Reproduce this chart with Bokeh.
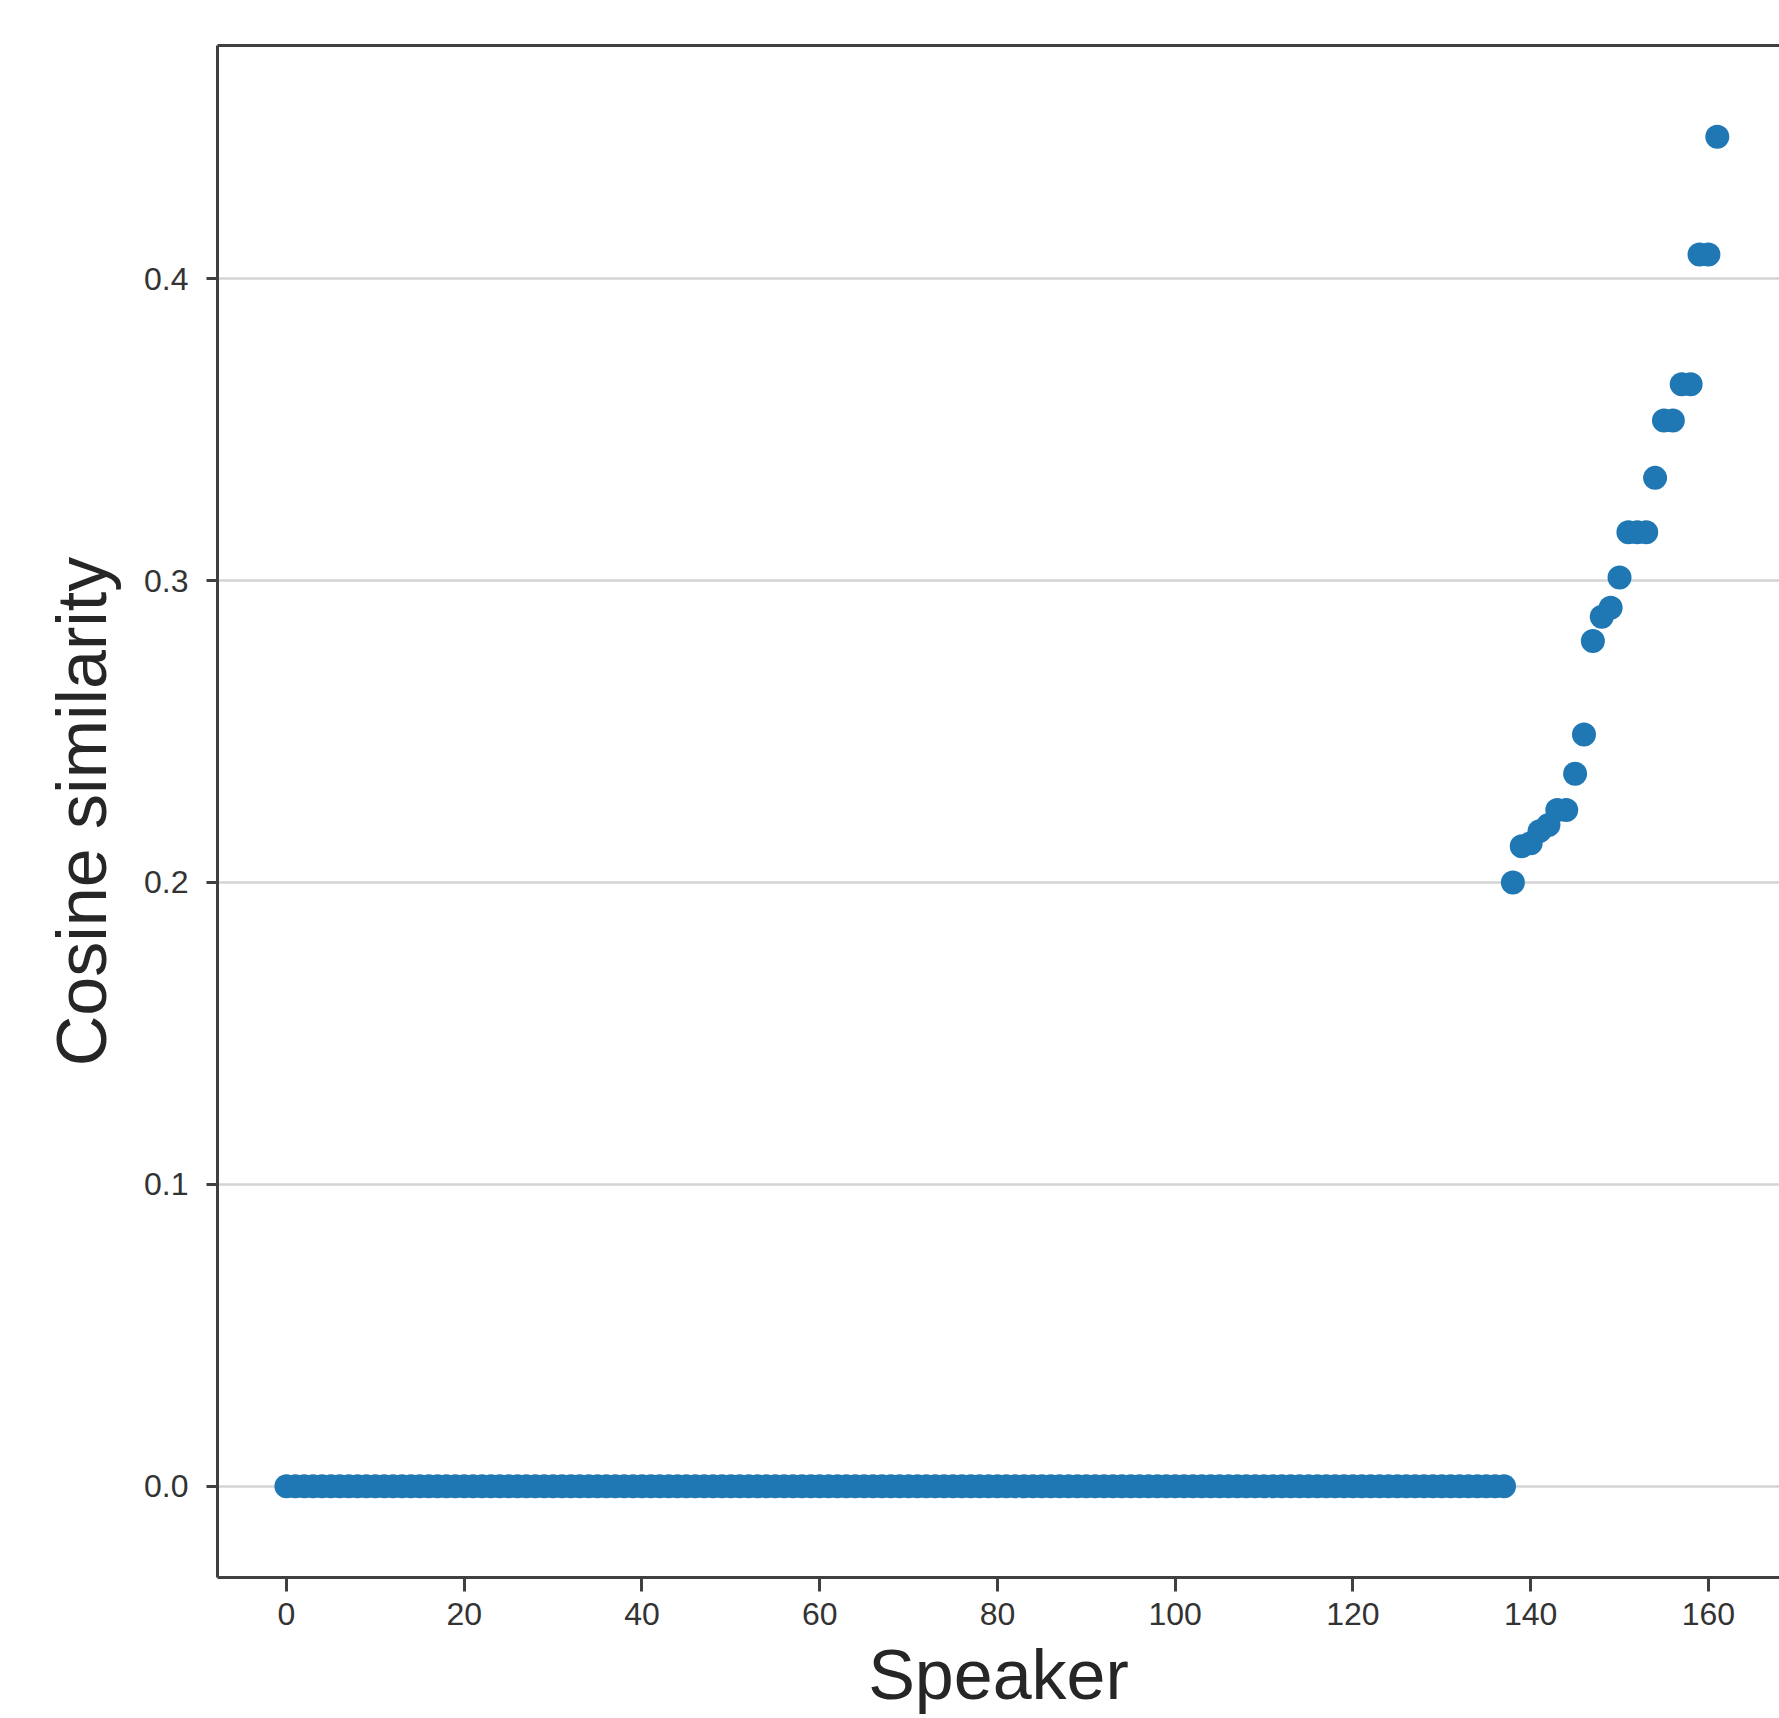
from bokeh.plotting import figure
from bokeh.models import Range1d, FixedTicker, PrintfTickFormatter, LinearAxis, ColumnDataSource
from bokeh.embed import file_html
from bokeh.resources import INLINE

# ---- data ----
zero_similarity = [0.0] * 138  # speakers 0..137 all at 0.0
nonzero_similarity = [
    0.200, 0.212, 0.213, 0.217, 0.219, 0.224, 0.224, 0.236,
    0.249, 0.280, 0.288, 0.291, 0.301, 0.316, 0.316, 0.316,
    0.334, 0.353, 0.353, 0.365, 0.365, 0.408, 0.408, 0.447,
]
similarity = zero_similarity + nonzero_similarity
speaker = list(range(len(similarity)))

x_ticks = [0, 20, 40, 60, 80, 100, 120, 140, 160]
y_ticks = [0.0, 0.1, 0.2, 0.3, 0.4]

FONT = "Liberation Sans"
AXIS_COLOR = "#404040"
TEXT_COLOR = "#333333"
LABEL_COLOR = "#262626"

src = ColumnDataSource(dict(speaker=speaker, similarity=similarity))

p = figure(
    width=1779, height=1718,
    output_backend="svg", toolbar_location=None,
    x_range=Range1d(-7.76, 168.0),
    y_range=Range1d(-0.0302, 0.4772),
    min_border_left=217, min_border_right=0,
    min_border_top=45, min_border_bottom=141,
    background_fill_color="white", border_fill_color="white",
)
p.outline_line_color = None

p.scatter("speaker", "similarity", source=src, size=24, marker="circle",
          fill_color="#1f77b4", line_color=None)

# grid: horizontal only
p.xgrid.visible = False
p.ygrid.grid_line_color = "#d4d4d4"
p.ygrid.grid_line_width = 2.5
p.ygrid.ticker = FixedTicker(ticks=y_ticks)

# x axis
xa = p.xaxis[0]
xa.ticker = FixedTicker(ticks=x_ticks)
xa.axis_label = "Speaker"
xa.axis_label_text_font = FONT
xa.axis_label_text_font_size = "70px"
xa.axis_label_text_font_style = "normal"
xa.axis_label_text_color = LABEL_COLOR
xa.axis_label_standoff = 8
xa.major_label_text_font = FONT
xa.major_label_text_font_size = "32px"
xa.major_label_text_color = TEXT_COLOR
xa.major_label_standoff = 11
xa.axis_line_color = AXIS_COLOR
xa.axis_line_width = 3
xa.major_tick_line_color = AXIS_COLOR
xa.major_tick_line_width = 3
xa.major_tick_in = 0
xa.major_tick_out = 14
xa.minor_tick_line_color = None

# y axis
ya = p.yaxis[0]
ya.ticker = FixedTicker(ticks=y_ticks)
ya.formatter = PrintfTickFormatter(format="%.1f")
ya.axis_label = "Cosine similarity"
ya.axis_label_text_font = FONT
ya.axis_label_text_font_size = "70px"
ya.axis_label_text_font_style = "normal"
ya.axis_label_text_color = LABEL_COLOR
ya.axis_label_standoff = 20
ya.major_label_text_font = FONT
ya.major_label_text_font_size = "32px"
ya.major_label_text_color = TEXT_COLOR
ya.major_label_standoff = 18
ya.axis_line_color = AXIS_COLOR
ya.axis_line_width = 3
ya.major_tick_line_color = AXIS_COLOR
ya.major_tick_line_width = 3
ya.major_tick_in = 0
ya.major_tick_out = 11
ya.minor_tick_line_color = None

# top frame line (the right side is cut off in the reference)
top = LinearAxis(ticker=FixedTicker(ticks=[]))
top.axis_line_color = AXIS_COLOR
top.axis_line_width = 3
top.major_tick_line_color = None
top.minor_tick_line_color = None
top.major_label_text_font_size = "0px"
top.major_label_standoff = 0
p.add_layout(top, "above")

open("out.html", "w").write(file_html(p, INLINE))
